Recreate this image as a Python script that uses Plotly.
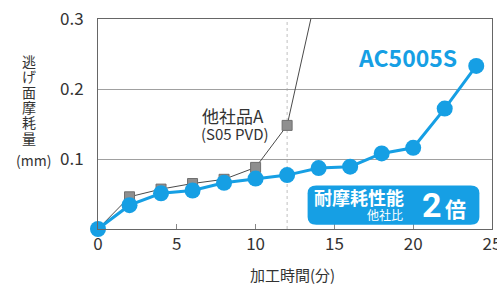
import plotly.graph_objects as go

# Data
time_min = [0, 2, 4, 6, 8, 10, 12, 14, 16, 18, 20, 22, 24]
ac5005s = [0.0, 0.034, 0.051, 0.055, 0.066, 0.072, 0.077, 0.087, 0.089, 0.108, 0.116, 0.172, 0.233]
other_time = [0, 2, 4, 6, 8, 10, 12, 14]
other_a = [0.0, 0.046, 0.057, 0.065, 0.071, 0.088, 0.148, 0.35]
x_ticks = [0, 5, 10, 15, 20, 25]
y_ticks = [0.1, 0.2, 0.3]
y_tick_labels = ["0.1", "0.2", "0.3"]

BLUE = "#169fe4"
FONT = "Noto Sans CJK JP"

W, H = 497, 288
L, R, T, B = 98, 5, 19, 59
PW, PH = W - L - R, H - T - B


def px(x):
    return (x - L) / PW


def py(y):
    return (H - B - y) / PH


fig = go.Figure()

# vertical dotted reference line at 12 min
fig.add_shape(type="line", xref="x", yref="y", x0=12, x1=12, y0=0, y1=0.3,
              line=dict(color="#c0c0c0", width=1, dash="dot"), layer="below")

# rounded box (data coords)
x0, x1, y0, y1 = 13.3, 24.2, 0.006, 0.062
rx, ry = 0.55, 0.011
path = (f"M {x0+rx},{y0} L {x1-rx},{y0} Q {x1},{y0} {x1},{y0+ry} "
        f"L {x1},{y1-ry} Q {x1},{y1} {x1-rx},{y1} L {x0+rx},{y1} "
        f"Q {x0},{y1} {x0},{y1-ry} L {x0},{y0+ry} Q {x0},{y0} {x0+rx},{y0} Z")
fig.add_shape(type="path", path=path, xref="x", yref="y",
              fillcolor=BLUE, line=dict(width=0), layer="above")

fig.add_trace(go.Scatter(
    x=other_time, y=other_a, mode="lines+markers",
    line=dict(color="#4a4a4a", width=1),
    marker=dict(symbol="square", size=10, color="#8f8f8f", line=dict(color="#6f6f6f", width=1)),
    showlegend=False, cliponaxis=True))

fig.add_trace(go.Scatter(
    x=time_min, y=ac5005s, mode="lines+markers",
    line=dict(color=BLUE, width=3),
    marker=dict(symbol="circle", size=16, color=BLUE),
    showlegend=False, cliponaxis=False))

fig.update_layout(
    width=W, height=H,
    margin=dict(l=L, r=R, t=T, b=B, autoexpand=False),
    paper_bgcolor="white", plot_bgcolor="white",
    font=dict(family=FONT, color="#333333"),
    xaxis=dict(range=[0, 25], tickvals=x_ticks, showgrid=False, zeroline=False,
               showline=True, mirror=True, linecolor="#666666", linewidth=1,
               ticks="inside", ticklen=5, tickcolor="#888888", automargin=False,
               ticklabeloverflow="allow",
               tickfont=dict(size=17, family=FONT, color="#333333")),
    yaxis=dict(range=[0, 0.3], tickvals=y_ticks, ticktext=y_tick_labels,
               showgrid=True, gridcolor="#a0a0a0", gridwidth=1, zeroline=False,
               showline=True, mirror=True, linecolor="#666666", linewidth=1,
               ticks="", ticklabelstandoff=10, automargin=False,
               tickfont=dict(size=17, family=FONT, color="#333333")),
)

annotations = []
# y-axis title, stacked vertical characters
ytitle = "逃げ面摩耗量"
for i, ch in enumerate(ytitle):
    annotations.append(dict(text=ch, xref="paper", yref="paper",
                            x=px(29), y=py(61 + i * 15.3),
                            xanchor="center", yanchor="middle", showarrow=False,
                            font=dict(size=14, family=FONT, color="#333333")))
annotations.append(dict(text="(mm)", xref="paper", yref="paper",
                        x=px(33), y=py(160), xanchor="center", yanchor="middle",
                        showarrow=False, font=dict(size=14, family=FONT, color="#333333")))
annotations.append(dict(text="加工時間(分)", xref="paper", yref="paper",
                        x=px(292), y=py(274), xanchor="center", yanchor="middle",
                        showarrow=False, font=dict(size=15, family=FONT, color="#333333")))
annotations.append(dict(text="他社品A", xref="paper", yref="paper", x=px(233), y=py(115),
                        xanchor="center", yanchor="middle", showarrow=False,
                        font=dict(size=17, family=FONT, color="#333333")))
annotations.append(dict(text="(S05 PVD)", xref="paper", yref="paper", x=px(235), y=py(133),
                        xanchor="center", yanchor="middle", showarrow=False,
                        font=dict(size=15, family=FONT, color="#333333")))
annotations.append(dict(text="<b>AC5005S</b>", xref="paper", yref="paper", x=px(407), y=py(57),
                        xanchor="center", yanchor="middle", showarrow=False,
                        font=dict(size=23, family=FONT, color=BLUE)))
annotations.append(dict(text="<b>耐摩耗性能</b>", xref="paper", yref="paper", x=px(359), y=py(197),
                        xanchor="center", yanchor="middle", showarrow=False,
                        font=dict(size=18, family=FONT, color="white")))
annotations.append(dict(text="他社比", xref="paper", yref="paper", x=px(385), y=py(214),
                        xanchor="center", yanchor="middle", showarrow=False,
                        font=dict(size=12, family=FONT, color="white")))
annotations.append(dict(text="<b>2</b>", xref="paper", yref="paper", x=px(432), y=py(205),
                        xanchor="center", yanchor="middle", showarrow=False,
                        font=dict(size=34, family="Roboto", color="white")))
annotations.append(dict(text="<b>倍</b>", xref="paper", yref="paper", x=px(455), y=py(208),
                        xanchor="center", yanchor="middle", showarrow=False,
                        font=dict(size=21, family=FONT, color="white")))
fig.update_layout(annotations=annotations)

fig.write_html("out.html", config={"displayModeBar": False},
               post_script="document.body.style.margin='0';document.body.style.overflow='hidden';")
